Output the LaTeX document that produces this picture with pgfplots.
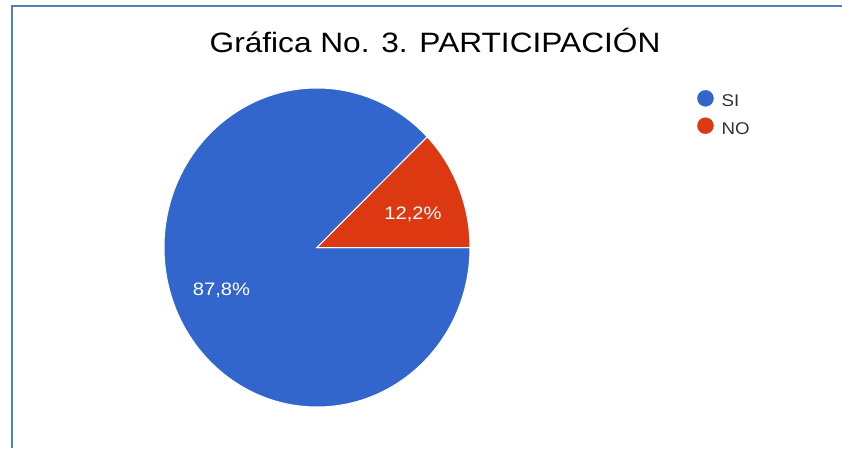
\documentclass[border=0pt]{standalone}
\usepackage{pgfplots}
\pgfplotsset{compat=1.18}
\usepackage{fontspec}
\setmainfont{Liberation Sans}
\definecolor{gblue}{HTML}{3366CC}
\definecolor{gred}{HTML}{DC3912}
\definecolor{frameblue}{HTML}{4F81BD}
\definecolor{legtext}{HTML}{333333}

% porcentajes de la grafica
\def\valSI{87.8}
\def\valNO{12.2}
\pgfmathsetmacro\angNO{\valNO*3.6}
\pgfmathsetmacro\angSI{-\valSI*3.6}

\begin{document}
\begin{tikzpicture}[x=1pt,y=1pt]
\useasboundingbox (0,0) rectangle (842,448);
\fill[white] (0,0) rectangle (842,448);
\draw[frameblue, line width=2.5pt] (12,0) -- (12,442) -- (842,442);
\node[anchor=base, inner sep=0pt] at (435,395)
  {\fontsize{28}{32}\selectfont\scalebox{1.13}[1]{Gráfica No. 3. PARTICIPACIÓN}};

\begin{axis}[
    x=153pt, y=159.5pt,
    xmin=-1, xmax=1, ymin=-1, ymax=1,
    hide axis, clip=false,
    anchor=center, at={(317pt,200.5pt)},
    legend image code/.code={\fill[#1] (8pt,0.35em) circle[radius=8pt];},
    legend cell align=left,
    legend style={draw=none, fill=none, at={(1.742,0.994)}, anchor=north west,
        inner sep=0pt, row sep=9pt, column sep=8pt,
        nodes={inner sep=0pt, text=legtext},
        font=\fontsize{17}{17}\selectfont},
  ]
  \addlegendimage{gblue}
  \addlegendentry{\scalebox{1.1}[1]{SI}}
  \addlegendimage{gred}
  \addlegendentry{\scalebox{1.1}[1]{NO}}

  \fill[gblue, draw=white, line width=1pt] (axis cs:0,0) -- (axis cs:1,0)
     arc[start angle=0, end angle=\angSI, x radius=153pt, y radius=159.5pt] -- cycle;
  \fill[gred, draw=white, line width=1pt] (axis cs:0,0) -- (axis cs:1,0)
     arc[start angle=0, end angle=\angNO, x radius=153pt, y radius=159.5pt] -- cycle;

  \node[anchor=base, white, inner sep=0pt, font=\fontsize{18}{18}\selectfont]
     at (axis cs:0.627,0.173) {\scalebox{1.12}[1]{12,2\%}};
  \node[anchor=base, white, inner sep=0pt, font=\fontsize{18}{18}\selectfont]
     at (axis cs:-0.624,-0.298) {\scalebox{1.12}[1]{87,8\%}};
\end{axis}
\end{tikzpicture}
\end{document}
